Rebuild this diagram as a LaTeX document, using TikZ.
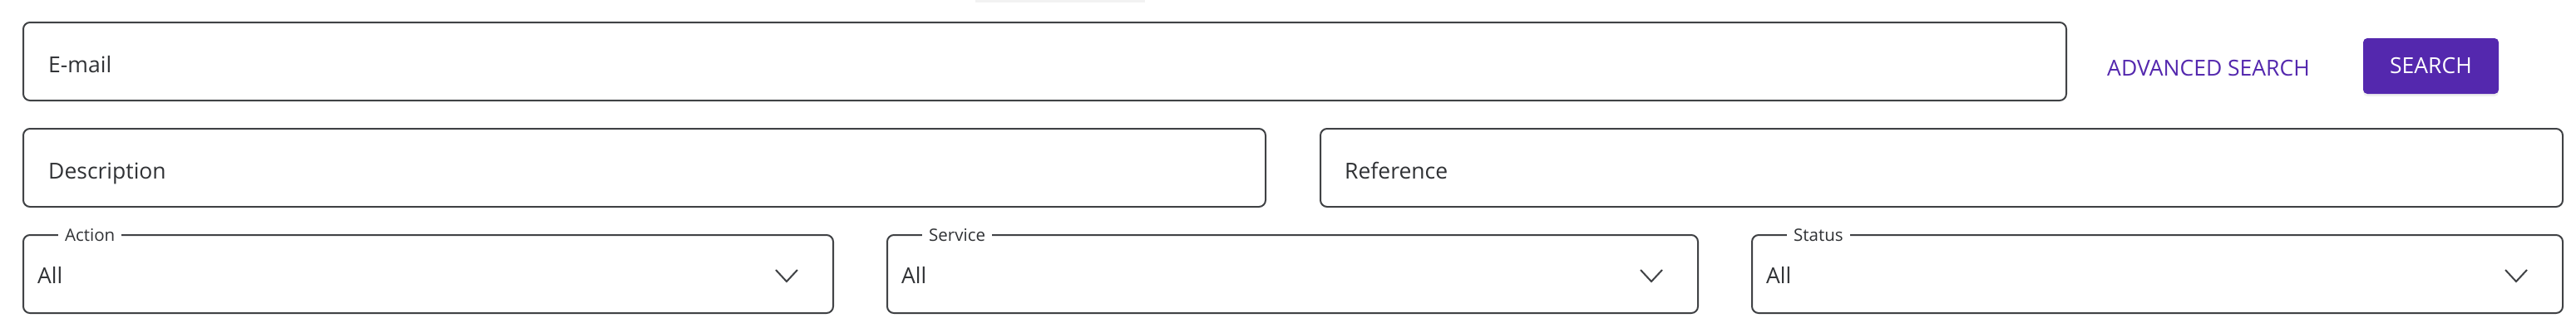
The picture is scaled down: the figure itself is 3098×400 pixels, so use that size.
\documentclass[tikz,border=0pt]{standalone}
\usepackage{fontspec}
\setmainfont{Open Sans}
\usetikzlibrary{shadows}
\definecolor{ink}{RGB}{64,66,69}
\definecolor{txt}{RGB}{48,50,53}
\definecolor{violet}{RGB}{84,40,174}
\tikzset{
  field/.style={draw=ink,line width=2pt,rounded corners=8pt,minimum height=94pt,inner sep=0pt},
  val/.style={anchor=base west,inner sep=0pt,text=txt,font=\fontsize{26.5}{30}\selectfont},
  tag/.style={anchor=base west,fill=white,inner xsep=8pt,inner ysep=2pt,text=txt,font=\fontsize{20.5}{24}\selectfont},
  chev/.style={draw=ink,line width=2pt}
}
\begin{document}
\begin{tikzpicture}[x=1pt,y=-1pt]
\useasboundingbox[fill=white] (0,0) rectangle (3098,400);
\fill[black!5] (1173,0) rectangle (1377,3); %% faint shadow at the top
%% first row
\node[field,minimum width=2457pt] (email) at (1256.5,74) {};
\node[val] (emailtxt) at ([xshift=31pt,yshift=-13pt]email.west) {E-mail};
\node[val,text=violet] (adv) at (2534,91) {ADVANCED SEARCH};
\node[fill=violet,rounded corners=5pt,minimum width=163pt,minimum height=67pt,
  drop shadow={opacity=0.12,shadow xshift=0pt,shadow yshift=-3pt},
  text=white,font=\fontsize{26.5}{30}\selectfont] (search) at (2923.5,79.5) {SEARCH};
%% second row
\node[field,minimum width=1494pt] (desc) at (775,202) {};
\node[val] (desctxt) at ([xshift=31pt,yshift=-13pt]desc.west) {Description};
\node[field,minimum width=1494pt] (ref) at (2335,202) {};
\node[val] (reftxt) at ([xshift=30pt,yshift=-13pt]ref.west) {Reference};
%% third row: selects
\node[field,minimum width=974pt] (act) at (515,330) {};
\node[tag] (acttag) at ([xshift=43pt,yshift=-8pt]act.north west) {Action};
\node[val] (actval) at ([xshift=18pt,yshift=-11pt]act.west) {All};
\draw[chev] ([xshift=-70pt,yshift=5pt]act.east) -- ([xshift=-57pt,yshift=-9pt]act.east) -- ([xshift=-44pt,yshift=5pt]act.east);
\node[field,minimum width=975pt] (serv) at (1554.5,330) {};
\node[tag] (servtag) at ([xshift=43pt,yshift=-8pt]serv.north west) {Service};
\node[val] (servval) at ([xshift=18pt,yshift=-11pt]serv.west) {All};
\draw[chev] ([xshift=-70pt,yshift=5pt]serv.east) -- ([xshift=-57pt,yshift=-9pt]serv.east) -- ([xshift=-44pt,yshift=5pt]serv.east);
\node[field,minimum width=975pt] (stat) at (2594.5,330) {};
\node[tag] (stattag) at ([xshift=43pt,yshift=-8pt]stat.north west) {Status};
\node[val] (statval) at ([xshift=18pt,yshift=-11pt]stat.west) {All};
\draw[chev] ([xshift=-70pt,yshift=5pt]stat.east) -- ([xshift=-57pt,yshift=-9pt]stat.east) -- ([xshift=-44pt,yshift=5pt]stat.east);
\end{tikzpicture}
\end{document}
